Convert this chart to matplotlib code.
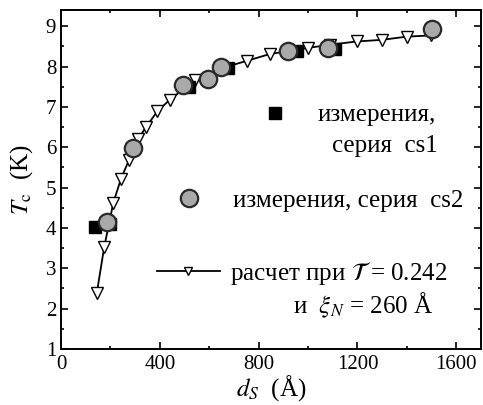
import numpy as np
import matplotlib
matplotlib.use("Agg")
import matplotlib.pyplot as plt
from matplotlib.ticker import MultipleLocator

plt.rcParams['font.family'] = ['Liberation Serif', 'DejaVu Serif']
plt.rcParams['mathtext.fontset'] = 'stix'

# calculated Tc(dS) curve
calc_d = [145, 175, 212, 243, 275, 313, 343, 390, 441, 543, 646, 752, 846,
          920, 999, 1090, 1197, 1298, 1400, 1497]
calc_tc = [2.39, 3.53, 4.63, 5.22, 5.68, 6.21, 6.49, 6.89, 7.18, 7.66, 7.95,
           8.14, 8.31, 8.38, 8.46, 8.54, 8.62, 8.66, 8.74, 8.77]

# measurements, series cs1
cs1_d = [138, 200, 519, 676, 955, 1109]
cs1_tc = [4.02, 4.10, 7.48, 7.96, 8.39, 8.43]

# measurements, series cs2
cs2_d = [185, 293, 495, 597, 646, 920, 1082, 1501]
cs2_tc = [4.14, 5.98, 7.53, 7.70, 7.99, 8.39, 8.46, 8.92]

W, H = 483, 405
fig = plt.figure(figsize=(W / 100, H / 100), dpi=100)
ax = fig.add_axes([61 / W, 1 - 349 / H, 420 / W, 339 / H])

calc, = ax.plot(calc_d, calc_tc, color='black', lw=1.3, marker='v',
                ms=8, mfc='white', mec='black', mew=1.0, zorder=2)
sq, = ax.plot(cs1_d, cs1_tc, ls='none', marker='s', ms=9, mfc='black',
              mec='black', zorder=3)
circ, = ax.plot(cs2_d, cs2_tc, ls='none', marker='o', ms=12.5, mfc='#a9a9a9',
                mec='#2a2a2a', mew=1.6, zorder=4)

ax.set_xlim(0, 1700)
ax.set_ylim(1, 9.4)
ax.xaxis.set_major_locator(MultipleLocator(400))
ax.xaxis.set_minor_locator(MultipleLocator(200))
ax.yaxis.set_major_locator(MultipleLocator(1))
ax.yaxis.set_minor_locator(MultipleLocator(0.5))
ax.tick_params(which='both', direction='in', top=True, right=True,
               labelsize=15, width=1.2)
ax.tick_params(axis='x', pad=4)
ax.tick_params(which='major', length=5)
ax.tick_params(which='minor', length=2.5)
for s in ax.spines.values():
    s.set_linewidth(1.4)

ax.set_xlabel(r'$d_S$  (Å)', fontsize=18, labelpad=0)
ax.set_ylabel(r'$T_{\mathrm{c}}$  (K)', fontsize=18, labelpad=8)

fs = 18
leg_kw = dict(frameon=False, fontsize=fs, borderpad=0, borderaxespad=0,
              loc='center left', handlelength=1.0, numpoints=1)

l1 = ax.legend([sq], ['измерения,'], bbox_to_anchor=(0.48, 0.69),
               handletextpad=1.2, **leg_kw)
ax.add_artist(l1)
ax.text(0.898, 0.60, 'серия  cs1', transform=ax.transAxes, fontsize=fs,
        ha='right', va='center')

l2 = ax.legend([circ], ['измерения, серия  cs2'], bbox_to_anchor=(0.275, 0.437),
               handletextpad=1.25, **leg_kw)
ax.add_artist(l2)

leg_kw['handlelength'] = 2.5
l3 = ax.legend([calc], [r'расчет при $\mathcal{T}$ = 0.242'],
               bbox_to_anchor=(0.229, 0.224), handletextpad=0.4,
               markerscale=0.8, **leg_kw)
ax.text(0.886, 0.13, r'и  $\xi_N$ = 260 Å', transform=ax.transAxes,
        fontsize=fs, ha='right', va='center')

fig.savefig('out.png', dpi=100)
